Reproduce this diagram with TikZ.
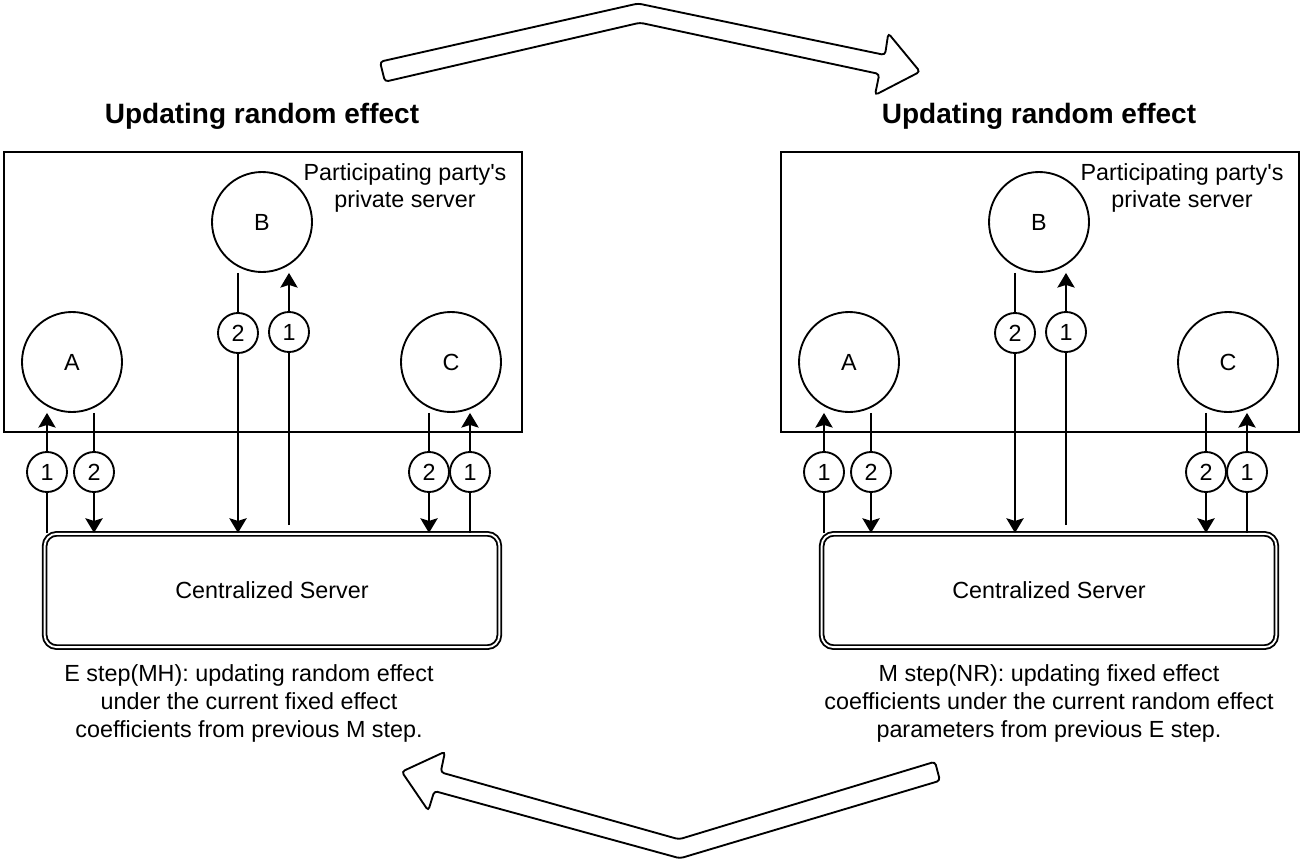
\documentclass[tikz,border=0pt]{standalone}
\usepackage{fontspec}
\setmainfont{Liberation Sans}[Ligatures=TeXOff]
\usetikzlibrary{arrows.meta}
\begin{document}
\begin{tikzpicture}[x=0.75pt,y=-0.75pt,line width=1.4pt,
  big/.style={circle,draw,minimum size=75pt,inner sep=0pt,font=\fontsize{17.5}{21}\selectfont},
  num/.style={circle,draw,fill=white,minimum size=30pt,inner sep=0pt,font=\fontsize{17.5}{21}\selectfont},
  srv/.style={draw,double,double distance=1.4pt,line width=1.4pt,rounded corners=9pt,minimum width=341pt,minimum height=85pt,inner sep=0pt,font=\fontsize{17.5}{21}\selectfont},
  panel/.style={draw,minimum width=388.5pt,minimum height=210pt,inner sep=0pt},
  arr/.style={-{Stealth[length=11pt,width=13pt,inset=2pt]}},
  txt/.style={align=center,font=\fontsize{17.5}{21}\selectfont},
  txtb/.style={align=center,font=\fontsize{17.5}{20}\selectfont},
  ttl/.style={font=\bfseries\fontsize{21}{25}\selectfont},
  block/.style={draw,line width=1.4pt,fill=white,rounded corners=2.5pt}
]
\useasboundingbox (0,0) rectangle (1308,864);
\foreach \p/\o in {L/0,R/777}{
\begin{scope}[xshift=\o*0.75pt]
  \node[panel] (box\p) at (263,292) {};
  \node[ttl] (title\p) at (262,116) {Updating random effect};
  \node[txtb] (pp\p) at (405,188) {Participating party's\\private server};
  \node[big] (A\p) at (72,362) {A};
  \node[big] (B\p) at (262,222) {B};
  \node[big] (C\p) at (451,362) {C};
  \node[srv] (S\p) at (272,590.5) {Centralized Server};
  \node[num] (a1\p) at (47,472) {1};
  \node[num] (a2\p) at (94,472) {2};
  \node[num] (b2\p) at (238,333) {2};
  \node[num] (b1\p) at (289,332) {1};
  \node[num] (c2\p) at (429,472) {2};
  \node[num] (c1\p) at (470,472) {1};
  \coordinate (b1s\p) at (289,525);
  \draw (a1\p |- S\p.north) -- (a1\p);
  \draw[arr] (a1\p) -- (a1\p |- A\p.south);
  \draw (a2\p |- A\p.south) -- (a2\p);
  \draw[arr] (a2\p) -- (a2\p |- S\p.north);
  \draw (b2\p |- B\p.south) -- (b2\p);
  \draw[arr] (b2\p) -- (b2\p |- S\p.north);
  \draw (b1s\p) -- (b1\p);
  \draw[arr] (b1\p) -- (b1\p |- B\p.south);
  \draw (c2\p |- C\p.south) -- (c2\p);
  \draw[arr] (c2\p) -- (c2\p |- S\p.north);
  \draw (c1\p |- S\p.north) -- (c1\p);
  \draw[arr] (c1\p) -- (c1\p |- C\p.south);
\end{scope}
}
\node[txt] (capL) at (249,703) {E step(MH): updating random effect\\under the current fixed effect\\coefficients from previous M step.};
\node[txt] (capR) at (1049,703) {M step(NR): updating fixed effect\\coefficients under the current random effect\\parameters from previous E step.};
\draw[block] (380,61.7) -- (638,3.5) -- (885,55) -- (888.3,33.3) -- (920,71.7) -- (875,95) -- (879.3,74) -- (640,22.7) -- (385,81.7) -- cycle;
\draw[block] (935,761.7) -- (679,839.3) -- (440.7,772.3) -- (445,751.7) -- (401.7,771.7) -- (428.3,810.7) -- (434.3,791) -- (680,858.3) -- (940,780.7) -- cycle;
\end{tikzpicture}
\end{document}
